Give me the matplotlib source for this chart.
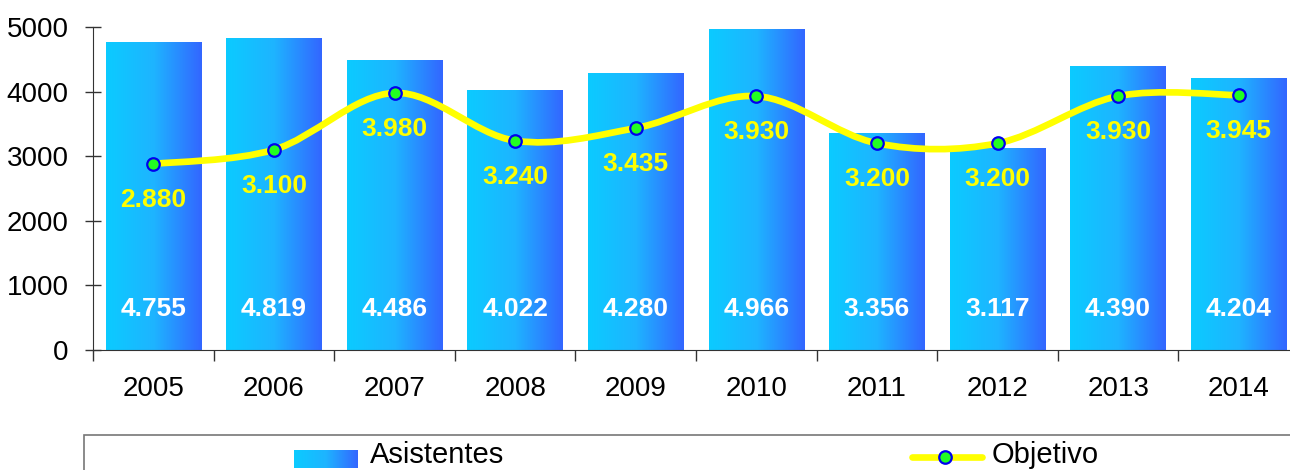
import numpy as np
import matplotlib
matplotlib.use("Agg")
import matplotlib.pyplot as plt
from matplotlib.colors import LinearSegmentedColormap
from matplotlib.path import Path
from matplotlib.patches import PathPatch, Rectangle
from matplotlib.lines import Line2D

plt.rcParams["font.family"] = ["Liberation Sans", "DejaVu Sans"]

YEARS = ["2005", "2006", "2007", "2008", "2009", "2010", "2011", "2012", "2013", "2014"]
ASISTENTES = [4755, 4819, 4486, 4022, 4280, 4966, 3356, 3117, 4390, 4204]
OBJETIVO = [2880, 3100, 3980, 3240, 3435, 3930, 3200, 3200, 3930, 3945]


def fmt(v):
    return f"{v:,}".replace(",", ".")


def smooth_path(xs, ys):
    # Catmull-Rom style Bezier, like a spreadsheet "smoothed line"
    pts = np.column_stack([xs, ys]).astype(float)
    n = len(pts)
    verts = [pts[0]]
    codes = [Path.MOVETO]
    for i in range(n - 1):
        p0 = pts[max(i - 1, 0)]
        p1 = pts[i]
        p2 = pts[i + 1]
        p3 = pts[min(i + 2, n - 1)]
        c1 = p1 + (p2 - p0) / 6.0
        c2 = p2 - (p3 - p1) / 6.0
        verts += [c1, c2, p2]
        codes += [Path.CURVE4] * 3
    return Path(verts, codes)


grad_cmap = LinearSegmentedColormap.from_list("bars", ["#0BCBFF", "#1EB4FF", "#3366FF"])
grad = np.linspace(0, 1, 256).reshape(1, -1)

fig = plt.figure(figsize=(12.9, 4.7), dpi=100)
ax = fig.add_axes([93 / 1290, 120 / 470, 1206 / 1290, 323 / 470])

x = np.arange(len(YEARS))
bars = ax.bar(x, ASISTENTES, width=0.79, color="none", edgecolor="none", zorder=2)
for b in bars:
    ax.imshow(grad, cmap=grad_cmap, aspect="auto", zorder=2,
              extent=[b.get_x(), b.get_x() + b.get_width(), 0, b.get_height()])

for xi, v in zip(x, ASISTENTES):
    ax.text(xi, 640, fmt(v), ha="center", va="center", color="white",
            fontsize=19, fontweight="bold", zorder=5)

ax.add_patch(PathPatch(smooth_path(x, OBJETIVO), facecolor="none",
                       edgecolor="#FFFF00", lw=4.8, zorder=3, capstyle="round"))
ax.plot(x, OBJETIVO, ls="none", marker="o", ms=9, mfc="#22FF22", mec="#0000EE",
        mew=1.6, zorder=4)
for xi, v in zip(x, OBJETIVO):
    ax.annotate(fmt(v), (xi, v), xytext=(0, -26), textcoords="offset points",
                ha="center", va="center", color="#FFFF00", fontsize=19,
                fontweight="bold", zorder=5)

ax.set_xlim(-0.5, len(YEARS) - 0.5)
ax.set_ylim(0, 5000)
ax.set_yticks([0, 1000, 2000, 3000, 4000, 5000])
ax.tick_params(axis="y", direction="inout", length=11, width=1, labelsize=20,
               pad=12, color="#333333")
ax.set_xticks(x)
ax.set_xticklabels(YEARS)
ax.tick_params(axis="x", which="major", length=0, labelsize=20, pad=19)
ax.set_xticks(np.arange(len(YEARS)) - 0.5, minor=True)
ax.tick_params(axis="x", which="minor", direction="out", length=8, width=1,
               color="#333333")
for s in ["top", "right"]:
    ax.spines[s].set_visible(False)
ax.spines["left"].set_color("#333333")
ax.spines["bottom"].set_color("#333333")

# legend box
fig.patches.append(Rectangle((84 / 1290, -0.1), 1.2, 0.1 + 35 / 470,
                             transform=fig.transFigure, facecolor="white",
                             edgecolor="#777777", lw=1.2, zorder=-1))
lax = fig.add_axes([294 / 1290, 2 / 470, 64 / 1290, 18 / 470], zorder=2)
lax.imshow(grad, cmap=grad_cmap, aspect="auto", extent=[0, 1, 0, 1])
lax.axis("off")
fig.text(370 / 1290, 15 / 470, "Asistentes", fontsize=21, va="center", ha="left")
fig.lines.append(Line2D([912 / 1290, 982 / 1290], [13 / 470, 13 / 470],
                        transform=fig.transFigure, color="#FFFF00", lw=4.8,
                        solid_capstyle="round"))
fig.lines.append(Line2D([945 / 1290], [13 / 470], transform=fig.transFigure,
                        ls="none", marker="o", ms=9, mfc="#22FF22", mec="#0000EE",
                        mew=1.6))
fig.text(992 / 1290, 15 / 470, "Objetivo", fontsize=21, va="center", ha="left")

fig.savefig("out.png", dpi=100)
